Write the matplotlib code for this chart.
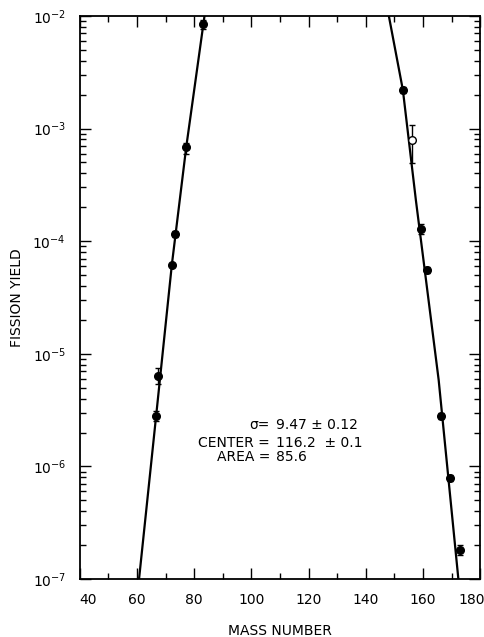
import numpy as np
import matplotlib
matplotlib.use("Agg")
import matplotlib.pyplot as plt
import matplotlib.transforms as mtrans
from matplotlib.ticker import LogLocator, MultipleLocator, FixedLocator

# measured fission yields (filled points)
mass = [83.0, 77.2, 73.3, 72.2, 67.5, 66.7, 153.1, 159.3, 161.5, 166.3, 169.6, 172.8]
yld = [8.4e-3, 6.8e-4, 1.15e-4, 6.2e-5, 6.35e-6, 2.8e-6,
       2.2e-3, 1.28e-4, 5.6e-5, 2.8e-6, 7.9e-7, 1.8e-7]
err_lo = [0.7e-3, 0.8e-4, 0.07e-4, 0.0, 0.96e-6, 0.27e-6,
          0.13e-3, 0.12e-4, 0.35e-5, 0.17e-6, 0.5e-7, 0.17e-7]
err_hi = [0.8e-3, 0.6e-4, 0.07e-4, 0.0, 1.1e-6, 0.3e-6,
          0.14e-3, 0.14e-4, 0.35e-5, 0.18e-6, 0.5e-7, 0.2e-7]

# open point
mass_open = [156.0]
yld_open = [7.9e-4]
open_lo = [3.0e-4]
open_hi = [2.8e-4]

# gaussian fit curve
fit_left_x = [60.7, 66.67, 72.18, 77.19, 83.6]
fit_left_y = [1e-7, 2.8e-6, 6.2e-5, 6.8e-4, 1e-2]
fit_right_x = [148.07, 152.98, 157.54, 165.5, 172.39]
fit_right_y = [1e-2, 2.2e-3, 2.3e-4, 5.85e-6, 1e-7]

x_ticks = [40, 60, 80, 100, 120, 140, 160, 180]

fig = plt.figure(figsize=(4.84, 6.37), dpi=100)
ax = fig.add_axes([0.165, 0.091, 0.827, 0.884])

ax.plot(fit_left_x, fit_left_y, color="black", lw=1.6)
ax.plot(fit_right_x, fit_right_y, color="black", lw=1.6)

ax.errorbar(mass, yld, yerr=[err_lo, err_hi], fmt="o", color="black",
            ms=5.5, capsize=2.5, elinewidth=1, capthick=1)
ax.errorbar(mass_open, yld_open, yerr=[open_lo, open_hi], fmt="o",
            mfc="white", mec="black", color="black", ms=5.5,
            capsize=2.5, elinewidth=1, capthick=1)

ax.set_yscale("log")
ax.set_xlim(40, 180)
ax.set_ylim(1e-7, 1e-2)

ax.xaxis.set_major_locator(FixedLocator(x_ticks))
ax.xaxis.set_minor_locator(MultipleLocator(10))
ax.yaxis.set_major_locator(LogLocator(base=10, numticks=10))
ax.yaxis.set_minor_locator(LogLocator(base=10, subs=np.arange(2, 10), numticks=10))

ax.tick_params(which="both", direction="in", top=True, right=True,
               width=1, labelsize=10)
ax.tick_params(which="major", length=8)
ax.tick_params(which="minor", length=4)
ax.tick_params(axis="x", pad=10)
ax.tick_params(axis="y", pad=10)

for s in ax.spines.values():
    s.set_linewidth(1.3)

ax.set_xlabel("MASS NUMBER", fontsize=10, labelpad=12)
ax.set_ylabel("FISSION YIELD", fontsize=10)
ax.yaxis.set_label_coords(-0.14, 0.5)

# nudge the end labels inward like the original
fig.canvas.draw()
xlabels = ax.get_xticklabels()
xlabels[0].set_transform(xlabels[0].get_transform()
                         + mtrans.ScaledTranslation(8 / 100, 0, fig.dpi_scale_trans))
xlabels[-1].set_transform(xlabels[-1].get_transform()
                          + mtrans.ScaledTranslation(-8 / 100, 0, fig.dpi_scale_trans))

# fit parameters
tx = 0.475
rows = [("σ=", "9.47 ± 0.12", 0.274),
        ("CENTER =", "116.2  ± 0.1", 0.242),
        ("AREA =", "85.6", 0.217)]
for left, right, ty in rows:
    ax.text(tx, ty, left, transform=ax.transAxes, ha="right", va="center", fontsize=10)
    ax.text(tx + 0.015, ty, right, transform=ax.transAxes, ha="left", va="center", fontsize=10)

fig.savefig("out.png", dpi=100)
